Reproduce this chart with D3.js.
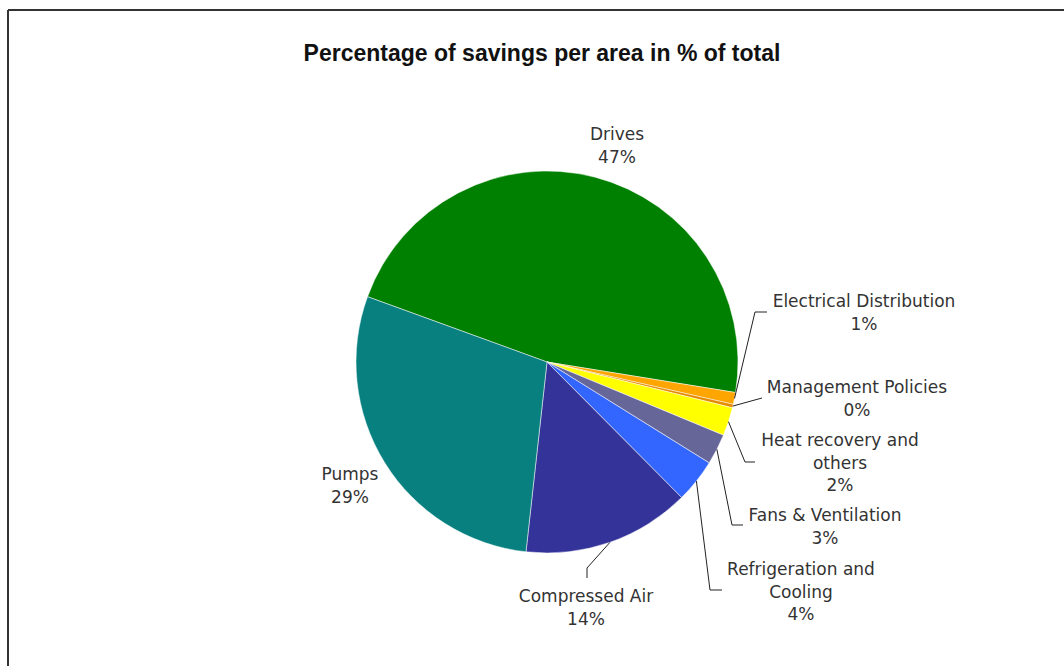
<!DOCTYPE html>
<html>
<head>
<meta charset="utf-8">
<script src="https://cdn.jsdelivr.net/npm/d3@7"></script>
<style>
  body { margin: 0; background: #fff; }
  svg { display: block; }
</style>
</head>
<body>
<svg></svg>
<script>
const svgWidth = 1064
const svgHeight = 666

// data (labels show the rounded value)
const areas = ["Drives", "Electrical Distribution", "Management Policies", "Heat recovery and others",
    "Fans & Ventilation", "Refrigeration and Cooling", "Compressed Air", "Pumps"]
const shares = [47, 1, 0.3, 2.4, 2.6, 3.7, 14.2, 28.8]
const colors = ["#008000", "#ffa500", "#e58a00", "#ffff00", "#666699", "#3366ff", "#333399", "#088080"]

// label layout: centre x, first baseline, lines, leader elbow/end (null = no leader)
const labelLayout = [
    { x: 617, y: 140, lines: ["Drives"], leader: null },
    { x: 864, y: 307, lines: ["Electrical Distribution"], leader: [[755, 312], [767, 312]] },
    { x: 857, y: 393, lines: ["Management Policies"], leader: [[762, 398]] },
    { x: 840, y: 446, lines: ["Heat recovery and", "others"], leader: [[745, 462], [755, 462]] },
    { x: 825, y: 521, lines: ["Fans & Ventilation"], leader: [[732, 525], [743, 525]] },
    { x: 801, y: 575, lines: ["Refrigeration and", "Cooling"], leader: [[710, 590], [722, 590]] },
    { x: 586, y: 602, lines: ["Compressed Air"], leader: [[587, 568], [587, 578]] },
    { x: 350, y: 480, lines: ["Pumps"], leader: null }
]

const cx = 547
const cy = 362
const radius = 191
const lineHeight = 22.5

const svg = d3.select("svg")
    .attr("width", svgWidth)
    .attr("height", svgHeight)
    .style("font-family", "'DejaVu Sans', Verdana, sans-serif")

// frame (top and left edges visible in the picture)
svg.append("line")
    .attr("x1", 8).attr("y1", 10).attr("x2", svgWidth).attr("y2", 10)
    .attr("stroke", "#333").attr("stroke-width", 2)
svg.append("line")
    .attr("x1", 8).attr("y1", 10).attr("x2", 8).attr("y2", svgHeight)
    .attr("stroke", "#333").attr("stroke-width", 2)

svg.append("text")
    .text("Percentage of savings per area in % of total")
    .attr("x", 542)
    .attr("y", 61)
    .attr("text-anchor", "middle")
    .attr("font-family", "'Liberation Sans', Arial, sans-serif")
    .attr("font-weight", "bold")
    .attr("font-size", 23)
    .attr("fill", "#111")

const pieData = areas.map((a, i) => ({ area: a, value: shares[i], color: colors[i], layout: labelLayout[i] }))

const pie = d3.pie()
    .sort(null)
    .value(d => d.value)
    .startAngle(-70 * Math.PI / 180)
    .endAngle(290 * Math.PI / 180)

const arc = d3.arc().innerRadius(0).outerRadius(radius)

const plotGroup = svg.append("g")
    .attr("transform", `translate(${cx},${cy})`)

const arcs = pie(pieData)

plotGroup.selectAll(".slice")
    .data(arcs)
    .join("path")
    .attr("class", "slice")
    .attr("d", arc)
    .attr("fill", d => d.data.color)
    .attr("stroke", "#ffffff")
    .attr("stroke-width", 0.5)

// leader lines from the slice edge
const leaderGroup = svg.append("g")
arcs.forEach((d) => {
    const lay = d.data.layout
    if (!lay.leader) return
    const mid = (d.startAngle + d.endAngle) / 2
    const start = [cx + radius * Math.sin(mid), cy - radius * Math.cos(mid)]
    const pts = [start].concat(lay.leader)
    leaderGroup.append("path")
        .attr("d", d3.line()(pts))
        .attr("fill", "none")
        .attr("stroke", "#222")
        .attr("stroke-width", 1)
})

// labels
const labelGroup = svg.append("g")
arcs.forEach((d) => {
    const lay = d.data.layout
    const lines = lay.lines.concat([Math.round(d.data.value) + "%"])
    const t = labelGroup.append("text")
        .attr("text-anchor", "middle")
        .attr("font-size", 17)
        .attr("fill", "#333")
    lines.forEach((l, i) => {
        t.append("tspan")
            .attr("x", lay.x)
            .attr("y", lay.y + i * lineHeight)
            .text(l)
    })
})
</script>
</body>
</html>
